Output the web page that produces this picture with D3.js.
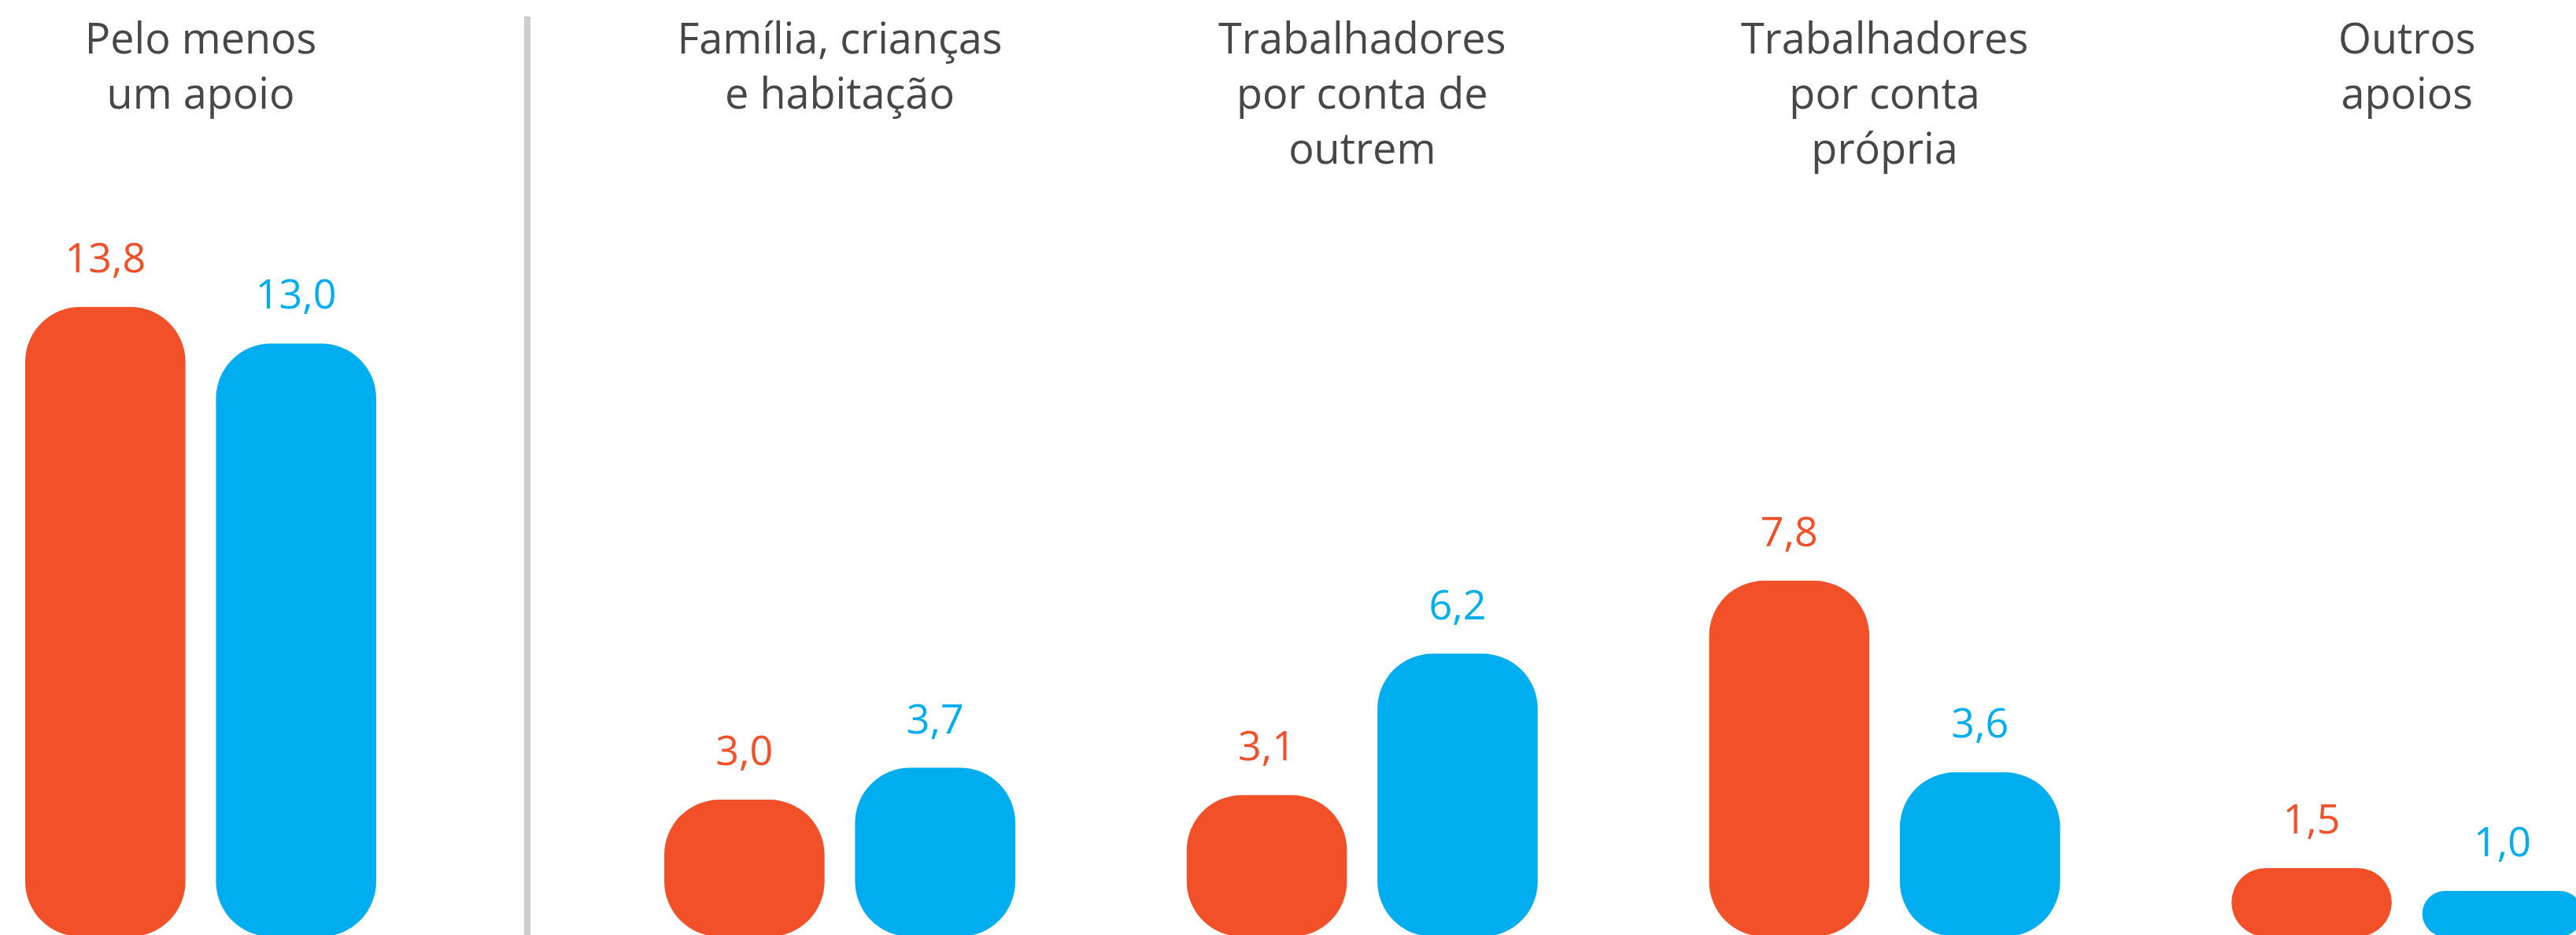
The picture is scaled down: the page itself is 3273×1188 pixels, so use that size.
<!DOCTYPE html>
<html lang="pt">
<meta charset="utf-8">
<head>
    <script src="https://d3js.org/d3.v7.min.js"></script>
    <style>
        body { margin: 0; background: #fff; }
        text { font-family: "Open Sans", "Noto Sans", sans-serif; }
    </style>
</head>
<body>
<div id="chart"></div>

<script>
// categories (each label split into its lines)
const categories = [
    ["Pelo menos", "um apoio"],
    ["Família, crianças", "e habitação"],
    ["Trabalhadores", "por conta de", "outrem"],
    ["Trabalhadores", "por conta", "própria"],
    ["Outros", "apoios"]
];
const seriesKeys = ["serieA", "serieB"];
const serieA = [13.8, 3.0, 3.1, 7.8, 1.5];
const serieB = [13.0, 3.7, 6.2, 3.6, 1.0];

const colors = {serieA: "#f15029", serieB: "#00aeef"};

// dimensions
const width = 3273;
const height = 1188;
const baseline = 1190;

const svg = d3.select("#chart")
    .append("svg")
    .attr("width", width)
    .attr("height", height);

const names = categories.map(function(c) { return c.join(" "); });
const data = names.map(function(n, i) {
    return {name: n, lines: categories[i], serieA: serieA[i], serieB: serieB[i]};
});

// first group stands alone, the rest sit right of the divider
const xFirst = d3.scaleBand()
    .domain(names.slice(0, 1))
    .range([32, 478]);
const xRest = d3.scaleBand()
    .domain(names.slice(1))
    .range([844, 3280])
    .paddingInner(0.33);
function groupX(name) {
    return xFirst.domain().includes(name) ? xFirst(name) : xRest(name);
}
const groupW = xFirst.bandwidth();

const xInner = d3.scaleBand()
    .domain(seriesKeys)
    .range([0, groupW])
    .paddingInner(0.16);

const y = d3.scaleLinear()
    .domain([0, 13.8])
    .range([baseline, 390]);

const fmt = d3.formatLocale({decimal: ",", thousands: ".", grouping: [3], currency: ["", "€"]}).format(".1f");

// divider
svg.append("line")
    .attr("x1", 670).attr("x2", 670)
    .attr("y1", 21).attr("y2", height)
    .attr("stroke", "#cccccc")
    .attr("stroke-width", 8);

const groups = svg.selectAll(".group")
    .data(data)
    .enter()
    .append("g")
    .attr("class", "group")
    .attr("transform", function(d) { return "translate(" + groupX(d.name) + ",0)"; });

// category titles
groups.append("text")
    .attr("text-anchor", "middle")
    .attr("fill", "#474747")
    .attr("font-size", 54)
    .selectAll("tspan")
    .data(function(d) { return d.lines; })
    .enter()
    .append("tspan")
    .attr("x", groupW / 2)
    .attr("y", function(d, i) { return 68 + i * 70; })
    .text(function(d) { return d; });

const bars = groups.selectAll(".bar")
    .data(function(d) { return seriesKeys.map(function(k) { return {key: k, value: d[k]}; }); })
    .enter();

function radius(d) { return Math.min(70, (y(0) - y(d.value)) / 2); }

bars.append("rect")
    .attr("class", "bar")
    .attr("x", function(d) { return xInner(d.key); })
    .attr("y", function(d) { return y(d.value); })
    .attr("width", xInner.bandwidth())
    .attr("height", function(d) { return y(0) - y(d.value); })
    .attr("rx", radius)
    .attr("ry", radius)
    .attr("fill", function(d) { return colors[d.key]; });

// value labels
bars.append("text")
    .attr("text-anchor", "middle")
    .attr("x", function(d) { return xInner(d.key) + xInner.bandwidth() / 2; })
    .attr("y", function(d) { return y(d.value) - 44; })
    .attr("font-size", 52)
    .attr("fill", function(d) { return colors[d.key]; })
    .text(function(d) { return fmt(d.value); });
</script>
</body>
</html>
